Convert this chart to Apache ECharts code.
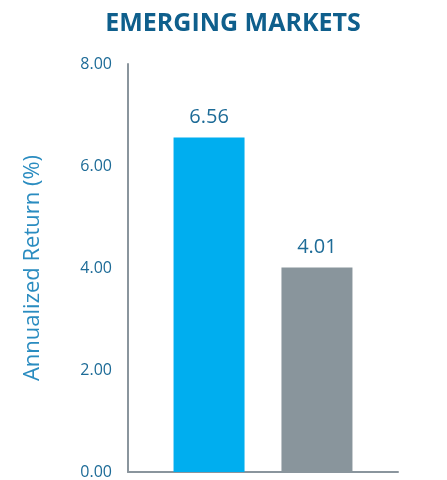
<!DOCTYPE html>
<html>
<head>
<meta charset="utf-8">
<script src="https://cdn.jsdelivr.net/npm/echarts@6/dist/echarts.min.js"></script>
<style>
  html, body { margin: 0; padding: 0; background: #ffffff; }
  #chart { width: 447px; height: 480px; }
</style>
</head>
<body>
<div id="chart"></div>
<script>
// Annualized returns, emerging markets
const categories = ['Emerging Markets'];
const seriesNames = ['Fund', 'Benchmark'];
const fundValues = [6.56];
const benchmarkValues = [4.01];
const yTicks = [0, 2, 4, 6, 8];

const fontFamily = '"Open Sans"';
const labelColor = '#1d6b97';
const axisColor = '#8a959d';

const chart = echarts.init(document.getElementById('chart'));
chart.setOption({
  animation: false,
  title: {
    text: 'EMERGING MARKETS',
    left: 228,
    textAlign: 'center',
    top: 6,
    textStyle: {
      fontFamily: fontFamily,
      fontWeight: 'bold',
      fontSize: 25,
      color: '#0f5f8c'
    }
  },
  grid: { left: 128, right: 49, top: 64, bottom: 6 },
  xAxis: {
    type: 'category',
    data: categories,
    axisLine: { lineStyle: { color: axisColor, width: 2 } },
    axisTick: { show: false },
    axisLabel: { show: false }
  },
  yAxis: {
    type: 'value',
    min: yTicks[0],
    max: yTicks[yTicks.length - 1],
    interval: 2,
    name: 'Annualized Return (%)',
    nameLocation: 'middle',
    nameGap: 84,
    nameTextStyle: {
      fontFamily: fontFamily,
      fontSize: 22,
      color: '#2a8cc0'
    },
    axisLine: { show: true, lineStyle: { color: axisColor, width: 2 } },
    axisTick: { show: false },
    splitLine: { show: false },
    axisLabel: {
      margin: 16,
      fontFamily: fontFamily,
      fontSize: 16,
      color: labelColor,
      formatter: v => v.toFixed(2)
    }
  },
  series: [
    {
      name: seriesNames[0],
      type: 'bar',
      data: fundValues,
      barWidth: 71,
      barGap: '52%',
      itemStyle: { color: '#00aeef' },
      label: {
        show: true,
        position: 'top',
        distance: 10,
        fontFamily: fontFamily,
        fontSize: 20,
        color: labelColor,
        formatter: p => p.value.toFixed(2)
      }
    },
    {
      name: seriesNames[1],
      type: 'bar',
      data: benchmarkValues,
      barWidth: 71,
      itemStyle: { color: '#89959c' },
      label: {
        show: true,
        position: 'top',
        distance: 10,
        fontFamily: fontFamily,
        fontSize: 20,
        color: labelColor,
        formatter: p => p.value.toFixed(2)
      }
    }
  ]
});
</script>
</body>
</html>
